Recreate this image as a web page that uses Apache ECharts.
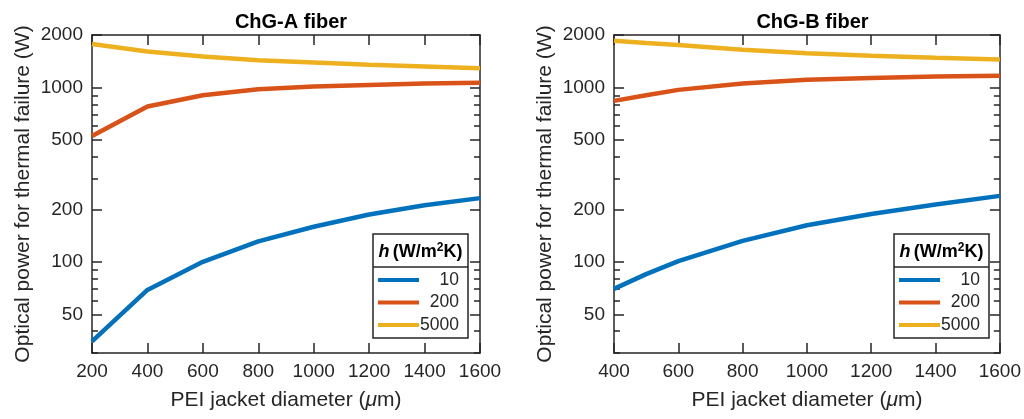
<!DOCTYPE html>
<html>
<head>
<meta charset="utf-8">
<script src="https://cdn.jsdelivr.net/npm/echarts@6/dist/echarts.min.js"></script>
<style>
  html, body { margin: 0; padding: 0; background: #fff; }
  #chart { width: 1024px; height: 419px; }
</style>
</head>
<body>
<div id="chart"></div>
<script>
// ChG-A fiber
const xA = [200, 400, 600, 800, 1000, 1200, 1400, 1600];
const aH10 = [35, 69, 100, 131, 159, 187, 211, 232];
const aH200 = [527, 778, 903, 978, 1013, 1035, 1054, 1063];
const aH5000 = [1774, 1610, 1507, 1435, 1392, 1349, 1320, 1291];
// ChG-B fiber
const xB = [400, 500, 600, 800, 1000, 1200, 1400, 1600];
const bH10 = [70, 85, 101, 132, 162, 188, 213, 239];
const bH200 = [838, 903, 969, 1054, 1106, 1135, 1157, 1166];
const bH5000 = [1853, 1800, 1751, 1645, 1574, 1519, 1480, 1448];

const hNames = ['10', '200', '5000'];
const colors = ['#0072BD', '#D95319', '#EDB120'];
const yMajor = [50, 100, 200, 500, 1000, 2000];
const yMinor = [30, 40, 60, 70, 80, 90, 300, 400, 600, 700, 800, 900];
const titles = ['ChG-A fiber', 'ChG-B fiber'];

const FONT = '"Liberation Sans", Arial, Helvetica, sans-serif';
const INK = '#262626';

const chart = echarts.init(document.getElementById('chart'), null, {renderer: 'canvas'});

const grids = [
  {left: 92, top: 35, width: 388, height: 318},
  {left: 614, top: 35, width: 387, height: 318}
];
const xRange = [[200, 1600], [400, 1600]];

const line = {show: true, onZero: false, lineStyle: {color: INK, width: 1.5}};
const plain = v => String(v);

let xAxis = [], yAxis = [], series = [], legend = [], graphic = [], title = [];

grids.forEach((g, i) => {
  // bottom + top x axes
  xAxis.push({
    gridIndex: i, type: 'value', position: 'bottom',
    min: xRange[i][0], max: xRange[i][1], interval: 200,
    axisLine: line,
    axisTick: {inside: true, length: 10, lineStyle: {color: INK, width: 1.5}},
    axisLabel: {color: INK, fontSize: 19, fontFamily: FONT, margin: 9, formatter: plain},
    splitLine: {show: false},
    name: 'PEI jacket diameter ({mu|μ}m)',
    nameLocation: 'middle', nameGap: 37,
    nameTextStyle: {color: INK, fontSize: 21, fontFamily: FONT,
      rich: {mu: {fontStyle: 'italic', fontSize: 21, fontFamily: FONT, color: INK}}}
  });
  xAxis.push({
    gridIndex: i, type: 'value', position: 'top',
    min: xRange[i][0], max: xRange[i][1], interval: 200,
    axisLine: line,
    axisTick: {inside: true, length: 10, lineStyle: {color: INK, width: 1.5}},
    axisLabel: {show: false}, splitLine: {show: false}
  });
  const yBase = {gridIndex: i, type: 'log', logBase: 10, min: 30, max: 2000, splitLine: {show: false}};
  // left major (labels)
  yAxis.push(Object.assign({}, yBase, {
    position: 'left', axisLine: line,
    axisTick: {inside: true, length: 10, customValues: yMajor, lineStyle: {color: INK, width: 1.5}},
    axisLabel: {customValues: yMajor, color: INK, fontSize: 19, fontFamily: FONT, margin: 9,
      padding: [4, 0, 0, 0], formatter: plain},
    name: 'Optical power for thermal failure (W)',
    nameLocation: 'middle', nameGap: 58, nameRotate: 90,
    nameTextStyle: {color: INK, fontSize: 21, fontFamily: FONT}
  }));
  // left minor
  yAxis.push(Object.assign({}, yBase, {
    position: 'left', axisLine: {show: false},
    axisTick: {inside: true, length: 6, customValues: yMinor, lineStyle: {color: INK, width: 1.5}},
    axisLabel: {show: false}
  }));
  // right major
  yAxis.push(Object.assign({}, yBase, {
    position: 'right', axisLine: line,
    axisTick: {inside: true, length: 10, customValues: yMajor, lineStyle: {color: INK, width: 1.5}},
    axisLabel: {show: false}
  }));
  // right minor
  yAxis.push(Object.assign({}, yBase, {
    position: 'right', axisLine: {show: false},
    axisTick: {inside: true, length: 6, customValues: yMinor, lineStyle: {color: INK, width: 1.5}},
    axisLabel: {show: false}
  }));

  title.push({
    text: titles[i], left: g.left + g.width / 2, top: 7, textAlign: 'center',
    textStyle: {fontSize: 20, fontWeight: 'bold', color: '#000', fontFamily: FONT}
  });

  // legend box with header
  const bx = g.left + g.width - 107, by = 234, bw = 95, bh = 104;
  graphic.push({type: 'rect', z: 3, shape: {x: bx, y: by, width: bw, height: bh},
    style: {fill: '#fff', stroke: INK, lineWidth: 1.5}});
  graphic.push({type: 'line', z: 3, shape: {x1: bx, y1: by + 33, x2: bx + bw, y2: by + 33},
    style: {stroke: INK, lineWidth: 1.5}});
  graphic.push({type: 'text', z: 3, x: bx + bw / 2, y: by + 18,
    style: {
      text: '{i|h} {b|(W/m}{s|2}{b|K)}',
      align: 'center', verticalAlign: 'middle', textAlign: 'center', textVerticalAlign: 'middle',
      rich: {
        i: {fontStyle: 'italic', fontWeight: 'bold', fontSize: 18, fontFamily: FONT, fill: '#000'},
        b: {fontWeight: 'bold', fontSize: 18, fontFamily: FONT, fill: '#000'},
        s: {fontWeight: 'bold', fontSize: 12, fontFamily: FONT, fill: '#000', padding: [0, 0, 9, 0]}
      }
    }});
  legend.push({
    left: bx + 5, top: by + 37, orient: 'vertical', padding: 0,
    itemWidth: 41, itemHeight: 4, itemGap: 4.5, icon: 'rect',
    selectedMode: false, data: hNames,
    formatter: n => '{v|' + n + '}',
    textStyle: {rich: {v: {width: 35, align: 'right', fontSize: 17.5, lineHeight: 19, fontFamily: FONT, color: INK}}}
  });
});

const dataA = [aH10, aH200, aH5000];
const dataB = [bH10, bH200, bH5000];
hNames.forEach((n, k) => {
  series.push({
    name: n, type: 'line', xAxisIndex: 0, yAxisIndex: 0, symbol: 'none',
    lineStyle: {width: 4.5, color: colors[k]}, itemStyle: {color: colors[k]},
    data: xA.map((x, j) => [x, dataA[k][j]])
  });
  series.push({
    name: n, type: 'line', xAxisIndex: 2, yAxisIndex: 4, symbol: 'none',
    lineStyle: {width: 4.5, color: colors[k]}, itemStyle: {color: colors[k]},
    data: xB.map((x, j) => [x, dataB[k][j]])
  });
});

chart.setOption({
  animation: false,
  backgroundColor: '#fff',
  title: title,
  grid: grids,
  xAxis: xAxis,
  yAxis: yAxis,
  legend: legend,
  graphic: graphic,
  series: series
});
</script>
</body>
</html>
